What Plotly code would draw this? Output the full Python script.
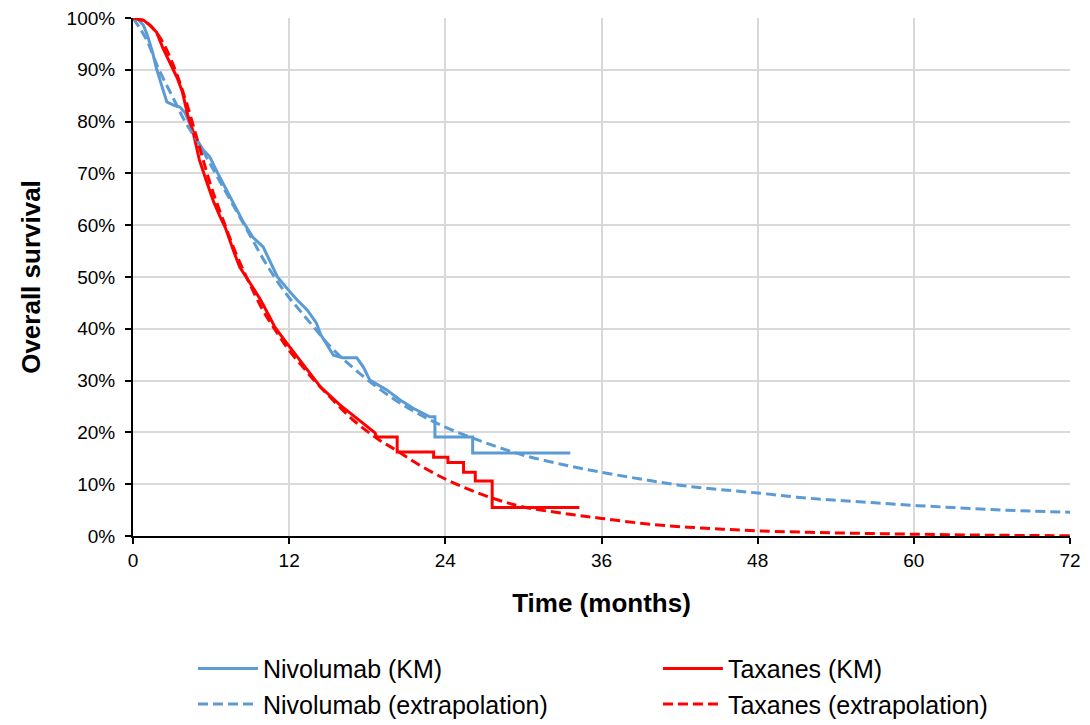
import plotly.graph_objects as go

# Kaplan-Meier estimates (months, overall survival %)
nivo_km_t = [0, 0.3, 0.8, 1.1, 1.5, 1.8, 2.2, 2.6, 3.1, 3.6, 4.0, 4.4, 4.9, 5.4, 5.9, 6.5,
             6.9, 7.5, 8.0, 8.5, 9.2, 10.0, 10.5, 11.1, 11.8, 12.6, 13.4, 14.1, 14.4, 15.4,
             16.1, 17.2, 17.7, 18.2, 19.5, 20.5, 21.5, 22.8, 23.2, 23.2, 26.1, 26.1, 33.6]
nivo_km_s = [100, 100, 98.6, 96.7, 93.4, 90.3, 87.0, 83.8, 83.2, 82.8, 81.7, 79.5, 76.5, 74.5,
             73.2, 70.1, 68.1, 65.4, 62.9, 60.5, 57.7, 55.8, 53.3, 50.0, 47.9, 45.6, 43.6, 41.1,
             39.0, 34.9, 34.4, 34.4, 32.6, 30.1, 28.2, 26.3, 24.7, 23.0, 23.0, 19.1, 19.1, 16.0,
             16.0]

taxa_km_t = [0, 0.8, 1.3, 1.8, 2.3, 2.8, 3.4, 3.8, 4.0, 4.2, 4.6, 5.1, 5.7, 6.2, 6.7, 7.1,
             7.7, 8.2, 9.0, 9.8, 10.5, 10.9, 11.8, 12.8, 14.4, 15.9, 17.4, 18.6, 18.7, 20.3,
             20.3, 23.1, 23.1, 24.2, 24.2, 25.4, 25.4, 26.3, 26.3, 27.6, 27.6, 34.3]
taxa_km_s = [100, 99.6, 98.6, 97.3, 94.2, 91.5, 88.4, 85.7, 83.6, 81.3, 78.2, 72.6, 68.1,
             64.5, 61.6, 59.5, 55.2, 51.9, 48.8, 45.6, 42.3, 40.3, 37.3, 34.0, 28.8, 25.3,
             22.4, 19.9, 19.1, 19.1, 16.2, 16.2, 15.2, 15.2, 14.2, 14.2, 12.3, 12.3, 10.6,
             10.6, 5.5, 5.5]

# Parametric extrapolations (months, overall survival %)
nivo_ext_t = [0, 1, 2, 3, 4, 5, 6, 7, 8, 9, 10, 11, 12, 13, 14, 15, 16, 17, 18, 20, 22, 24,
              26, 28, 30, 33, 36, 39, 42, 45, 48, 51, 54, 57, 60, 63, 66, 69, 72]
nivo_ext_s = [100, 96, 90, 85, 80, 76, 71.5, 67, 62.5, 58, 53.5, 49.5, 46, 43, 40, 37, 34.5,
              32.3, 30.2, 26.5, 23.5, 21, 19, 17.2, 15.6, 13.8, 12.3, 11.0, 9.8, 9.0, 8.3,
              7.5, 6.9, 6.4, 5.9, 5.5, 5.1, 4.8, 4.6]

taxa_ext_t = [0, 1, 2, 3, 4, 5, 6, 7, 8, 9, 10, 11, 12, 13, 14, 15, 16, 17, 18, 19, 20, 22,
              24, 26, 28, 30, 33, 36, 40, 44, 48, 54, 60, 66, 72]
taxa_ext_s = [100, 99.2, 96.5, 91.5, 84.5, 76, 67.5, 60.5, 54, 48.5, 43.5, 39.5, 35.8, 32.8,
              29.8, 27.2, 24.6, 22.2, 20.2, 18.4, 16.9, 13.7, 11.0, 8.8, 7.0, 5.6, 4.4, 3.4,
              2.2, 1.5, 1.0, 0.6, 0.35, 0.15, 0.05]

x_ticks = [0, 12, 24, 36, 48, 60, 72]

BLUE = "#5B9BD5"
RED = "#FF0000"
FONT = "Arial, Liberation Sans, sans-serif"


def pct(values):
    return [v / 100 for v in values]


fig = go.Figure()
fig.add_trace(go.Scatter(x=nivo_km_t, y=pct(nivo_km_s), mode="lines", name="Nivolumab (KM)",
                         line=dict(color=BLUE, width=3)))
fig.add_trace(go.Scatter(x=taxa_km_t, y=pct(taxa_km_s), mode="lines", name="Taxanes (KM)",
                         line=dict(color=RED, width=3)))
fig.add_trace(go.Scatter(x=nivo_ext_t, y=pct(nivo_ext_s), mode="lines",
                         name="Nivolumab (extrapolation)", line_shape="spline",
                         line=dict(color=BLUE, width=3, dash="10px,5px")))
fig.add_trace(go.Scatter(x=taxa_ext_t, y=pct(taxa_ext_s), mode="lines",
                         name="Taxanes (extrapolation)", line_shape="spline",
                         line=dict(color=RED, width=3, dash="10px,5px")))

fig.update_layout(
    width=1090, height=725,
    margin=dict(l=133, r=20, t=18, b=189, autoexpand=False),
    paper_bgcolor="white", plot_bgcolor="white",
    font=dict(family=FONT, color="#000000", size=19),
    showlegend=True,
    legend=dict(orientation="h", x=0.064, xanchor="left", y=-0.212, yanchor="top",
                entrywidth=390, entrywidthmode="pixels", traceorder="normal",
                font=dict(size=25, family=FONT), itemwidth=60, tracegroupgap=0),
)
fig.update_xaxes(
    range=[0, 72], tickvals=x_ticks, ticktext=[str(v) for v in x_ticks],
    showline=True, linecolor="black", linewidth=2, ticks="outside", ticklen=6,
    tickcolor="black", tickwidth=2, showgrid=True, gridcolor="#d9d9d9", gridwidth=2,
    zeroline=False, tickfont=dict(size=19),
    title=dict(text="<b>Time (months)</b>", font=dict(size=26), standoff=24),
)
fig.update_yaxes(
    range=[0, 1], dtick=0.1, tickformat=".0%",
    showline=True, linecolor="black", linewidth=2, ticks="outside", ticklen=6,
    tickcolor="black", tickwidth=2, showgrid=True, gridcolor="#d9d9d9", gridwidth=2,
    zeroline=False, tickfont=dict(size=19), ticklabelstandoff=6,
    title=dict(text="<b>Overall survival</b>", font=dict(size=26), standoff=18),
)

fig.write_html("out.html")
